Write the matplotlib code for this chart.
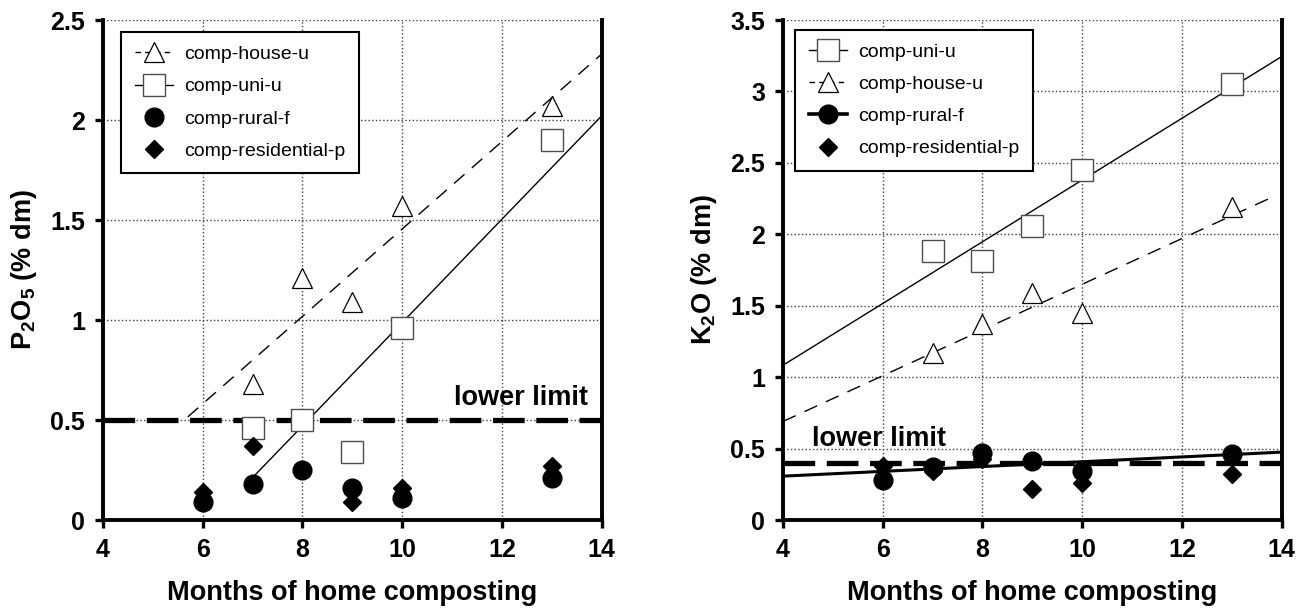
import numpy as np
import matplotlib
matplotlib.use('Agg')
import matplotlib.pyplot as plt
from matplotlib.lines import Line2D

plt.rcParams['font.family'] = ['Liberation Sans', 'DejaVu Sans']
plt.rcParams['mathtext.fontset'] = 'custom'
plt.rcParams['mathtext.rm'] = 'Liberation Sans:bold'
plt.rcParams['mathtext.it'] = 'Liberation Sans:bold'
plt.rcParams['mathtext.bf'] = 'Liberation Sans:bold'

# months sampled
months_all = [6, 7, 8, 9, 10, 13]
months_u = [7, 8, 9, 10, 13]
months_res_p = [6, 7, 9, 10, 13]

# P2O5 (% dm)
p_house_u = [0.68, 1.21, 1.09, 1.57, 2.07]
p_uni_u = [0.46, 0.50, 0.34, 0.96, 1.90]
p_rural_f = [0.09, 0.18, 0.25, 0.16, 0.11, 0.21]
p_residential_p = [0.14, 0.37, 0.09, 0.16, 0.27]
p_lower_limit = 0.5

# K2O (% dm)
k_uni_u = [1.88, 1.81, 2.06, 2.45, 3.05]
k_house_u = [1.17, 1.37, 1.59, 1.45, 2.19]
k_rural_f = [0.28, 0.37, 0.47, 0.41, 0.34, 0.46]
k_residential_p = [0.38, 0.34, 0.43, 0.22, 0.26, 0.32]
k_lower_limit = 0.4

x_ticks = [4, 6, 8, 10, 12, 14]

sq = dict(marker='s', ms=15.5, mfc='white', mec='0.3', mew=1.0, ls='none', zorder=5)
tri = dict(marker='^', ms=14, mfc='white', mec='black', mew=0.9, ls='none', zorder=5)
circ = dict(marker='o', ms=13.5, mfc='black', mec='black', ls='none', zorder=6)
dia = dict(marker='D', ms=9, mfc='black', mec='black', ls='none', zorder=6)


def handle(style, **kw):
    opts = {k: v for k, v in style.items() if k not in ('zorder',)}
    opts.update(kw)
    return Line2D([], [], **opts)


def fit_line(ax, x, y, x0, x1, **kw):
    k, b = np.polyfit(x, y, 1)
    xx = np.array([x0, x1])
    ax.plot(xx, k * xx + b, color='black', zorder=3, **kw)


def style_axes(ax, ymax, ystep):
    ax.set_xlim(4, 14)
    ax.set_ylim(0, ymax)
    ax.set_xticks(x_ticks)
    ax.set_yticks(np.arange(0, ymax + 1e-9, ystep))
    ax.yaxis.set_major_formatter(matplotlib.ticker.FormatStrFormatter('%g'))
    ax.grid(True, ls=':', color='0.25', lw=1.0, zorder=0)
    ax.set_axisbelow(True)
    ax.spines['top'].set_visible(False)
    for s in ['left', 'bottom', 'right']:
        ax.spines[s].set_linewidth(2.8)
    ax.tick_params(direction='out', length=6, width=2.4, labelsize=18, pad=7)
    for lab in ax.get_xticklabels() + ax.get_yticklabels():
        lab.set_fontweight('bold')
    ax.set_xlabel('Months of home composting', fontsize=19.5, fontweight='bold', labelpad=13)


def add_legend(ax, handles, labels, anchor):
    leg = ax.legend(handles, labels, loc='upper left', bbox_to_anchor=anchor,
                    borderaxespad=0, fontsize=14, frameon=True, fancybox=False,
                    edgecolor='black', framealpha=1, handlelength=2.0,
                    labelspacing=0.75, borderpad=0.7, handletextpad=0.55)
    leg.get_frame().set_linewidth(1.5)


fig = plt.figure(figsize=(13.12, 6.1), dpi=100)
ax1 = fig.add_axes([0.0785, 0.1475, 0.380, 0.8197])
ax2 = fig.add_axes([0.5968, 0.1475, 0.380, 0.8197])

# ---- P2O5 ----
ax1.axhline(p_lower_limit, color='black', lw=3.8, dashes=(6, 2.2), zorder=4)
fit_line(ax1, months_u, p_house_u, 5.7, 14, lw=1.0, dashes=(10, 7))
fit_line(ax1, months_u, p_uni_u, 7, 14, lw=1.0)
ax1.plot(months_u, p_house_u, **tri)
ax1.plot(months_u, p_uni_u, **sq)
ax1.plot(months_all, p_rural_f, **circ)
ax1.plot(months_res_p, p_residential_p, **dia)
ax1.text(11.05, 0.575, 'lower limit', fontsize=19.5, fontweight='bold', zorder=7)
style_axes(ax1, 2.5, 0.5)
ax1.set_ylabel('P$_2$O$_5$ (% dm)', fontsize=19.5, fontweight='bold', labelpad=8)

h1 = [handle(tri, ls='-', color='black', lw=1.0, dashes=(4, 3)),
      handle(sq, ls='-', color='black', lw=1.0),
      handle(circ),
      handle(dia)]
add_legend(ax1, h1, ['comp-house-u', 'comp-uni-u', 'comp-rural-f', 'comp-residential-p'],
           (0.036, 0.976))

# ---- K2O ----
ax2.axhline(k_lower_limit, color='black', lw=3.8, dashes=(6, 2.2), zorder=4)
fit_line(ax2, months_u, k_uni_u, 4, 14, lw=1.0)
fit_line(ax2, months_u, k_house_u, 4, 13.9, lw=1.0, dashes=(10, 7))
fit_line(ax2, months_all, k_rural_f, 4, 14, lw=2.2)
ax2.plot(months_u, k_uni_u, **sq)
ax2.plot(months_u, k_house_u, **tri)
ax2.plot(months_all, k_rural_f, **circ)
ax2.plot(months_all, k_residential_p, **dia)
ax2.text(4.58, 0.515, 'lower limit', fontsize=19.5, fontweight='bold', zorder=7)
style_axes(ax2, 3.5, 0.5)
ax2.set_ylabel('K$_2$O (% dm)', fontsize=19.5, fontweight='bold', labelpad=8)

h2 = [handle(sq, ls='-', color='black', lw=1.0),
      handle(tri, ls='-', color='black', lw=1.0, dashes=(4, 3)),
      handle(circ, ls='-', color='black', lw=2.6),
      handle(dia)]
add_legend(ax2, h2, ['comp-uni-u', 'comp-house-u', 'comp-rural-f', 'comp-residential-p'],
           (0.024, 0.981))

fig.savefig('out.png', dpi=100)
